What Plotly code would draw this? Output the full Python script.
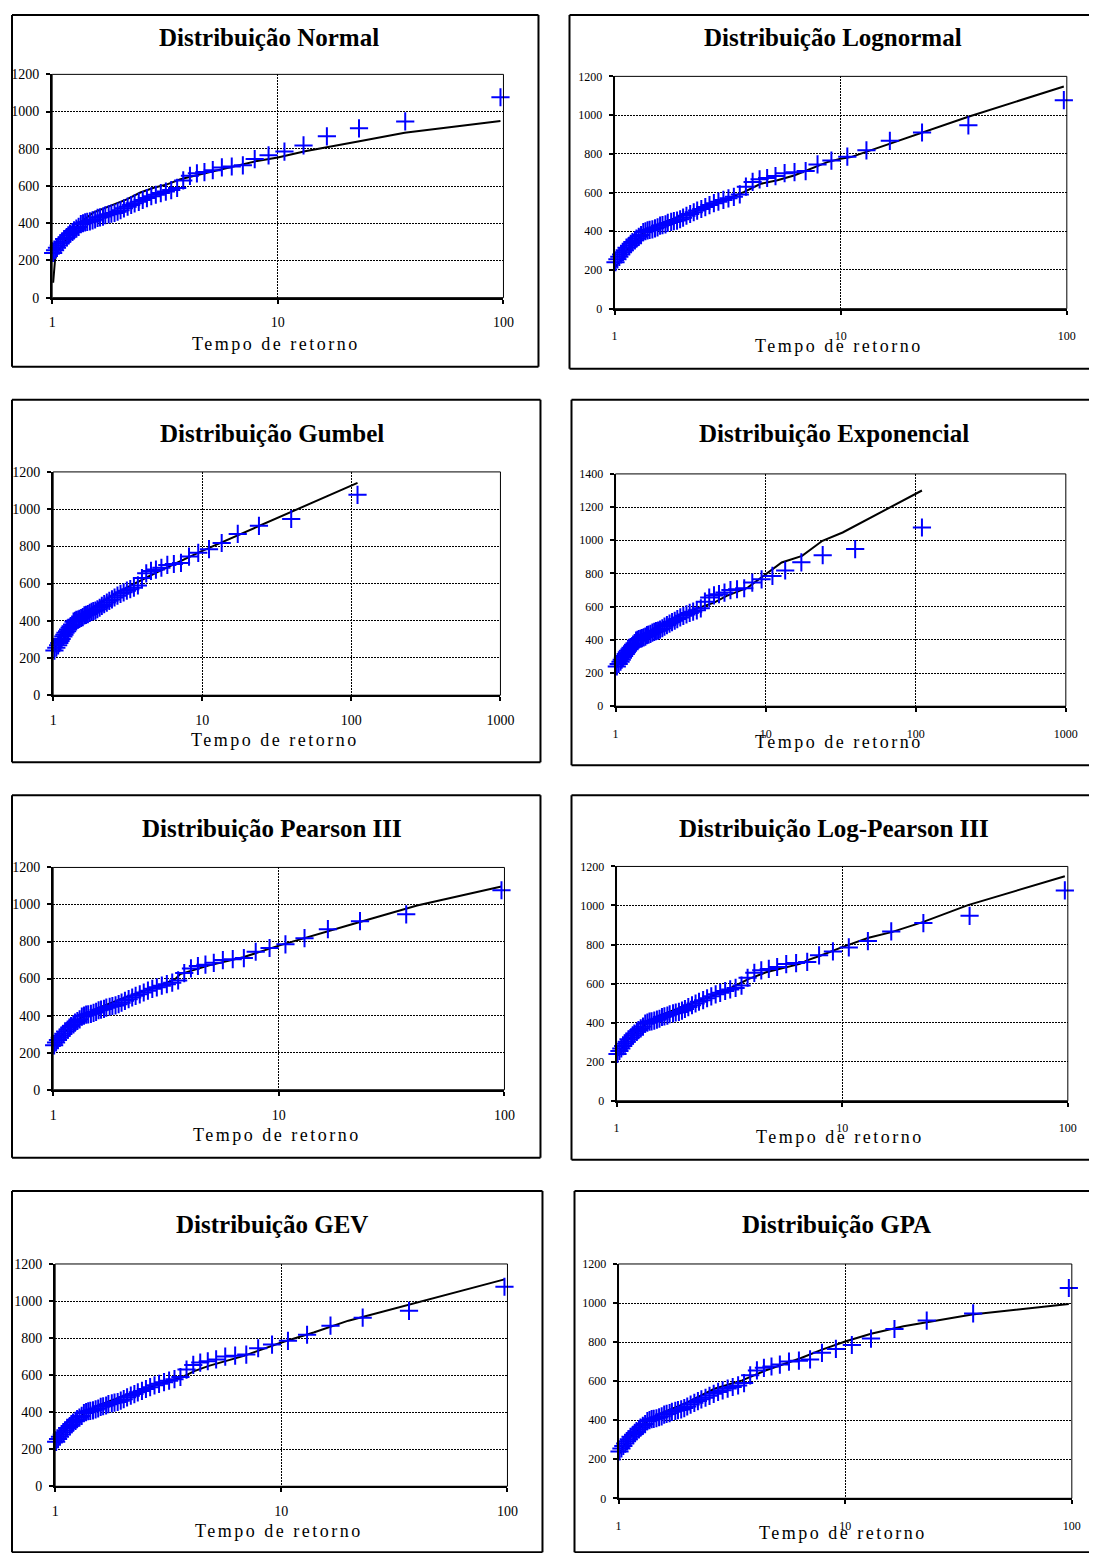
import math
import plotly.graph_objects as go

# ---------------- data ----------------
# return periods of the observed series (plotting positions), panels with x up to 100
T_obs = [97, 36.7, 22.9, 16.5, 13.0, 10.7, 9.1, 7.9, 7.0, 6.25,
         5.65, 5.15, 4.73, 4.38, 4.08, 3.81, 3.58, 3.37, 3.19, 3.03,
         2.88, 2.75, 2.63, 2.52, 2.42, 2.32, 2.24, 2.16, 2.08, 2.01,
         1.95, 1.89, 1.83, 1.78, 1.72, 1.68, 1.63, 1.59, 1.55, 1.51,
         1.47, 1.43, 1.40, 1.37, 1.34, 1.31, 1.28, 1.25, 1.23, 1.20,
         1.18, 1.16, 1.13, 1.11, 1.09, 1.07, 1.05, 1.03, 1.01]
# return periods used in the Gumbel / Exponential panels (x up to 1000)
T_obs_ge = [110, 39.5, 24.0, 17.3, 13.5, 11.1, 9.4, 8.15, 7.2, 6.45,
            5.83, 5.32, 4.89, 4.53, 4.21, 3.94, 3.70, 3.48, 3.29, 3.12,
            2.97, 2.83, 2.70, 2.58, 2.48, 2.38, 2.29, 2.20, 2.12, 2.05,
            1.98, 1.92, 1.86, 1.81, 1.76, 1.71, 1.66, 1.62, 1.58, 1.54,
            1.50, 1.47, 1.43, 1.40, 1.37, 1.34, 1.31, 1.29, 1.26, 1.24,
            1.21, 1.19, 1.17, 1.14, 1.12, 1.10, 1.08, 1.05, 1.02]
Q_obs = [1077, 947, 910, 867, 818, 785, 765, 745, 711, 705,
         700, 685, 675, 668, 655, 630, 590, 578, 570, 562,
         553, 545, 535, 525, 515, 507, 498, 489, 480, 470,
         462, 455, 452, 448, 443, 436, 432, 429, 420, 415,
         410, 407, 405, 400, 395, 380, 371, 362, 353, 344,
         335, 325, 315, 302, 292, 280, 268, 255, 240]

# fitted curves
T_normal = [1.01, 1.03, 1.06, 1.16, 1.33, 1.52, 1.81, 2.14, 2.46, 2.82, 3.23, 3.7, 4.55, 6.4, 8.1, 10, 13.2, 23, 36.5, 97]
Q_normal = [80, 206, 251, 313, 403, 457, 493, 528, 565, 591, 609, 636, 663, 708, 735, 753, 787, 841, 886, 949]

T_lognormal = [1.01, 1.14, 1.35, 1.6, 1.89, 2.24, 2.66, 3.15, 3.73, 4.43, 5.25, 6.22, 7.36, 8.73, 10, 11.1, 36.4, 97]
Q_lognormal = [215, 305, 392, 439, 473, 499, 534, 568, 602, 645, 663, 688, 723, 757, 774, 783, 990, 1148]

T_gumbel = [1.02, 1.05, 1.1, 1.25, 1.5, 2, 3, 5, 10, 24.4, 110]
Q_gumbel = [229, 268, 304, 364, 422, 491, 572, 662, 776, 913, 1141]

T_expon = [1.02, 1.1, 1.3, 1.5, 1.98, 3.33, 4.54, 5.5, 7.6, 10, 12.8, 17.5, 23.9, 32.6, 110]
Q_expon = [235, 300, 375, 420, 493, 584, 624, 665, 715, 796, 866, 906, 997, 1047, 1300]

T_pearson = [1.01, 1.1, 1.3, 1.5, 2, 2.5, 3, 3.47, 3.66, 4.87, 6.95, 10, 14.2, 20.2, 41, 97]
Q_pearson = [240, 300, 380, 430, 490, 530, 565, 597, 624, 670, 715, 778, 833, 887, 995, 1097]

T_logpearson = [1.01, 1.1, 1.3, 1.5, 2, 2.5, 3, 3.48, 3.86, 4.6, 6.5, 6.99, 8.05, 10, 13.1, 16.7, 22.9, 36.1, 97]
Q_logpearson = [230, 300, 380, 430, 485, 525, 560, 598, 624, 658, 701, 719, 744, 787, 835, 865, 916, 1002, 1150]

T_gev = [1.01, 1.1, 1.3, 1.5, 2, 2.5, 3, 3.6, 4.15, 4.78, 6.83, 10, 13.9, 19.8, 37.6, 97]
Q_gev = [235, 300, 380, 430, 487, 527, 560, 587, 623, 650, 704, 776, 830, 894, 984, 1117]

T_gpa = [1.01, 1.1, 1.3, 1.5, 2, 2.65, 3.51, 4.48, 6.35, 7.85, 10, 13.0, 18.1, 36.3, 97]
Q_gpa = [230, 300, 385, 430, 490, 561, 604, 656, 717, 760, 803, 843, 881, 941, 995]

titles = ["Distribuição Normal", "Distribuição Lognormal", "Distribuição Gumbel",
          "Distribuição Exponencial", "Distribuição Pearson III", "Distribuição Log-Pearson III",
          "Distribuição GEV", "Distribuição GPA"]
x_title = "Tempo de retorno"
x_ticks_100 = [1, 10, 100]
x_ticks_1000 = [1, 10, 100, 1000]
y_max = [1200, 1200, 1200, 1400, 1200, 1200, 1200, 1200]

curves = [(T_normal, Q_normal), (T_lognormal, Q_lognormal), (T_gumbel, Q_gumbel),
          (T_expon, Q_expon), (T_pearson, Q_pearson), (T_logpearson, Q_logpearson),
          (T_gev, Q_gev), (T_gpa, Q_gpa)]
obs_T = [T_obs, T_obs, T_obs_ge, T_obs_ge, T_obs, T_obs, T_obs, T_obs]
x_ticks = [x_ticks_100, x_ticks_100, x_ticks_1000, x_ticks_1000,
           x_ticks_100, x_ticks_100, x_ticks_100, x_ticks_100]

# ---------------- layout geometry (target picture pixels) ----------------
W, H = 1100, 1553           # figure size
OFF = 8                     # page margin around the figure
AX, BX = 0.983, 3.0         # observed page -> picture mapping (x)
AY, BY = 0.989, 7.8         # observed page -> picture mapping (y)
geom = [
    dict(p=(51, 502, 75, 298), b=(6, 4, 537, 367), ty=38, tx=268, at=344, right=False),
    dict(p=(613, 1065, 77, 309), b=(568, 4, 1110, 369), ty=38, tx=831, at=346, right=True),
    dict(p=(52, 499, 472, 695), b=(8, 400, 539, 762), ty=434, tx=271, at=740, right=False),
    dict(p=(614, 1064, 474, 706), b=(570, 400, 1110, 765), ty=434, tx=832, at=742, right=True),
    dict(p=(52, 503, 867, 1089), b=(8, 795, 539, 1157), ty=828, tx=271, at=1134, right=False),
    dict(p=(615, 1066, 866, 1100), b=(570, 795, 1110, 1159), ty=828, tx=832, at=1136, right=True),
    dict(p=(54, 506, 1263, 1485), b=(10, 1190, 541, 1551), ty=1224, tx=271, at=1530, right=False),
    dict(p=(617, 1070, 1263, 1497), b=(573, 1190, 1110, 1551), ty=1224, tx=835, at=1532, right=True),
]

FONT = "Liberation Serif, Times New Roman, serif"
fig = go.Figure()
layout = dict(width=W, height=H, margin=dict(l=0, r=0, t=0, b=0),
              paper_bgcolor="white", plot_bgcolor="rgba(0,0,0,0)",
              showlegend=False, font=dict(family=FONT, color="black"))
shapes, annotations = [], []


def clamp(v):
    return max(0.0, min(1.0, v))


def fx(t):
    return clamp(((t - BX) / AX - OFF) / W)


def fy(t):
    return clamp(1 - ((t - BY) / AY - OFF) / H)


def seg(xa, ya, xb, yb, w):
    return dict(type="line", xref="paper", yref="paper",
                x0=fx(xa), y0=fy(ya), x1=fx(xb), y1=fy(yb),
                line=dict(color="black", width=w))


for i in range(8):
    g = geom[i]
    x0, x1, yt, yb = g["p"]
    sfx = "" if i == 0 else str(i + 1)
    xa, ya = "xaxis" + sfx, "yaxis" + sfx
    xr, yr = "x" + sfx, "y" + sfx
    tsize = 12 if g["right"] else 14
    xt = x_ticks[i]
    layout[xa] = dict(domain=[fx(x0), fx(x1)], anchor=yr, type="log",
                      range=[0, math.log10(xt[-1])],
                      tickvals=xt, ticktext=[str(v) for v in xt],
                      ticks="outside", ticklen=4, tickwidth=1.5, tickcolor="black",
                      showline=True, linewidth=2, linecolor="black",
                      showgrid=True, gridcolor="black", gridwidth=1, griddash="2px,1px",
                      zeroline=False, ticklabelstandoff=(11 if g["right"] else 7),
                      tickfont=dict(family=FONT, size=tsize, color="black"))
    yv = list(range(0, y_max[i] + 1, 200))
    layout[ya] = dict(domain=[fy(yb), fy(yt)], anchor=xr, range=[0, y_max[i]],
                      tickvals=yv, ticktext=[str(v) for v in yv],
                      ticks="outside", ticklen=4, tickwidth=1.5, tickcolor="black",
                      showline=True, linewidth=2, linecolor="black",
                      showgrid=True, gridcolor="black", gridwidth=1, griddash="2px,1px",
                      zeroline=False, ticklabelstandoff=4,
                      tickfont=dict(family=FONT, size=tsize, color="black"))
    Tc, Qc = curves[i]
    fig.add_trace(go.Scatter(x=Tc, y=Qc, mode="lines", xaxis=xr, yaxis=yr,
                             line=dict(color="black", width=2), cliponaxis=False))
    fig.add_trace(go.Scatter(x=obs_T[i], y=Q_obs, mode="markers", xaxis=xr, yaxis=yr,
                             marker=dict(symbol="cross-thin", size=13,
                                         line=dict(color="#0000FF", width=2)),
                             cliponaxis=False))
    # thin frame on top / right of the plot area
    shapes.append(dict(type="rect", xref="paper", yref="paper",
                       x0=fx(x0), x1=fx(x1), y0=fy(yb), y1=fy(yt),
                       line=dict(color="black", width=1), layer="above"))
    # outer box of the panel (right column boxes run off the page edge)
    bx0, by0, bx1, by1 = g["b"]
    shapes.append(seg(bx0, by0, bx1, by0, 2))
    shapes.append(seg(bx0, by1, bx1, by1, 2))
    shapes.append(seg(bx0, by0, bx0, by1, 2))
    if not g["right"]:
        shapes.append(seg(bx1, by0, bx1, by1, 2))
    annotations.append(dict(text="<b>" + titles[i] + "</b>", x=fx(g["tx"]), y=fy(g["ty"]),
                            xref="paper", yref="paper", xanchor="center", yanchor="middle",
                            showarrow=False, font=dict(family=FONT, size=25, color="black")))
    annotations.append(dict(text='<span style="letter-spacing:2.5px">' + x_title + "</span>",
                            x=fx((x0 + x1) / 2 - 2), y=fy(g["at"]),
                            xref="paper", yref="paper", xanchor="center", yanchor="middle",
                            showarrow=False, font=dict(family=FONT, size=18, color="black")))

layout["shapes"] = shapes
layout["annotations"] = annotations
fig.update_layout(**layout)
fig.write_html("out.html", config={"displayModeBar": False})
